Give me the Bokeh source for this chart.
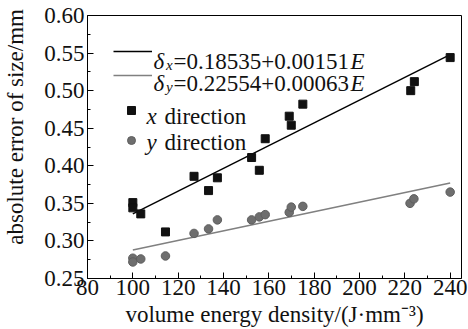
from bokeh.plotting import figure
from bokeh.models import (Range1d, FixedTicker, NumeralTickFormatter, Legend,
                          LegendItem, Label)
from bokeh.core.properties import value
from bokeh.embed import file_html
from bokeh.resources import INLINE

# ---- data ----
energy = [100, 100, 103.5, 114.4, 127, 133.4, 137.3, 152.4, 155.8, 158.4,
          169, 169.9, 175, 222.6, 224.2, 240]
err_x = [0.351, 0.344, 0.336, 0.312, 0.386, 0.367, 0.384, 0.411, 0.394, 0.436,
         0.466, 0.454, 0.482, 0.500, 0.512, 0.544]
energy_y = [100, 100, 103.5, 114.4, 127, 133.4, 137.3, 152.4, 155.8, 158.4,
            169, 169.9, 175, 222.3, 224, 240]
err_y = [0.277, 0.272, 0.276, 0.280, 0.310, 0.316, 0.328, 0.328, 0.332, 0.335,
         0.338, 0.345, 0.346, 0.350, 0.356, 0.365]
fit_energy = [100, 240]
fit_x = [0.336, 0.548]
fit_y = [0.288, 0.377]
eq_x = ["0.18535", "0.00151"]
eq_y = ["0.22554", "0.00063"]
x_ticks = [80, 100, 120, 140, 160, 180, 200, 220, 240]
y_ticks = [0.25, 0.30, 0.35, 0.40, 0.45, 0.50, 0.55, 0.60]
x_title = "volume energy density/(J\u00b7mm\u207b\u00b3)"
y_title = "absolute error of size/mm"

FONT = "'Liberation Serif', 'Times New Roman', serif"
TXT = "#111111"

p = figure(width=468, height=329, output_backend="svg", toolbar_location=None,
           x_range=Range1d(80, 245), y_range=Range1d(0.25, 0.60),
           min_border_left=84, min_border_right=7, min_border_top=15,
           min_border_bottom=51)
p.xgrid.visible = False
p.ygrid.visible = False
p.outline_line_color = "black"
p.outline_line_width = 1
p.background_fill_color = "white"
p.border_fill_color = "white"

p.xaxis.ticker = FixedTicker(
    ticks=x_ticks,
    minor_ticks=[(a + b) / 2 for a, b in zip(x_ticks[:-1], x_ticks[1:])])
p.yaxis.ticker = FixedTicker(
    ticks=y_ticks,
    minor_ticks=[(a + b) / 2 for a, b in zip(y_ticks[:-1], y_ticks[1:])])
p.yaxis.formatter = NumeralTickFormatter(format="0.00")
for ax in (p.xaxis[0], p.yaxis[0]):
    ax.major_tick_in = 6
    ax.major_tick_out = 0
    ax.minor_tick_in = 3
    ax.minor_tick_out = 0
    ax.major_tick_line_color = "black"
    ax.minor_tick_line_color = "black"
    ax.axis_line_color = "black"
    ax.major_label_text_font = FONT
    ax.major_label_text_font_size = "23px"
    ax.major_label_text_color = TXT
    ax.axis_label_text_font = FONT
    ax.axis_label_text_font_style = "normal"
    ax.axis_label_text_color = TXT
p.xaxis.major_label_standoff = 1
p.yaxis.major_label_standoff = 3
p.xaxis.axis_label = x_title
p.xaxis.axis_label_text_font_size = "23px"
p.xaxis.axis_label_standoff = 4
p.yaxis.axis_label = "\u00a0" * 7 + y_title
p.yaxis.axis_label_text_font_size = "23px"
p.yaxis.axis_label_standoff = 13

r_lx = p.line(fit_energy, fit_x, line_color="black", line_width=1.4)
r_ly = p.line(fit_energy, fit_y, line_color="#808080", line_width=1.6)
r_sx = p.scatter(energy, err_x, marker="square", size=8,
                 fill_color="#111111", line_color="#111111")
r_sy = p.scatter(energy_y, err_y, marker="circle", size=8.5,
                 fill_color="#6e6e6e", line_color="#5e5e5e")

common = dict(padding=0, label_standoff=0, label_width=0, label_height=20,
              glyph_height=20, border_line_color=None,
              background_fill_alpha=0, label_text_font_size="1px")
leg1 = Legend(items=[LegendItem(label=value(""), renderers=[r_lx]),
                     LegendItem(label=value(""), renderers=[r_ly])],
              location=(26, 193), glyph_width=39, spacing=4, **common)
leg2 = Legend(items=[LegendItem(label=value(""), renderers=[r_sx]),
                     LegendItem(label=value(""), renderers=[r_sy])],
              location=(29, 128), glyph_width=30, spacing=10, **common)
p.add_layout(leg1)
p.add_layout(leg2)


def lab(text, sx, sy, size="23px", style="normal"):
    p.add_layout(Label(x=sx, y=sy, x_units="screen", y_units="screen",
                       text=text, text_font=FONT, text_font_size=size,
                       text_font_style=style, text_align="left",
                       text_baseline="alphabetic", text_color=TXT))


# legend texts
for (a, b), sub, base in ((eq_x, "x", 217), (eq_y, "y", 195)):
    lab("\u03b4", 66, base, style="italic")
    lab(sub, 78.5, base - 3, size="15px", style="italic")
    lab(f"={a}+{b}", 86, base)
    lab("E", 263, base, style="italic")
lab("x", 59, 162, style="italic")
lab("direction", 77, 162)
lab("y", 59, 136, style="italic")
lab("direction", 77, 136)

open("out.html", "w").write(file_html(p, INLINE))
